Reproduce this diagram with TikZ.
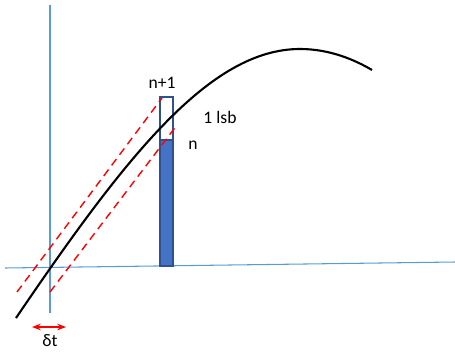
\documentclass[tikz,border=0pt]{standalone}
\usepackage{fontspec}
\setmainfont{Carlito}
\usepackage{tikz}
\usetikzlibrary{arrows.meta,positioning,calc}
\definecolor{axisblue}{RGB}{91,155,213}
\definecolor{barfill}{RGB}{68,114,196}
\definecolor{bardraw}{RGB}{47,82,143}
\definecolor{dashred}{RGB}{255,0,0}

\begin{document}
\begin{tikzpicture}[x=0.02cm, y=-0.02cm,
    axis/.style={axisblue, line width=0.6pt},
    sig/.style={black, line width=1.2pt},
    bound/.style={dashred, line width=0.8pt, dash pattern=on 4.5pt off 3pt},
    lbl/.style={font=\fontsize{10}{12}\selectfont, inner sep=0pt}
]
    \useasboundingbox (0,0) rectangle (455,351);
    % axes
    \draw[axis] (50,5) -- (50,313);
    \draw[axis] (5,268) -- (455,262);
    % bar for code n and n+1
    \draw[bardraw, line width=0.8pt, fill=white] (160,97) rectangle (173,140);
    \draw[bardraw, line width=0.8pt, fill=barfill] (160,140) rectangle (173,266);
    % signal
    \coordinate (s0) at (16,318);
    \coordinate (peak) at (300,49);
    \coordinate (s1) at (372,70);
    \draw[sig] (s0) .. controls (126,156) and (210,49) .. (peak)
                    .. controls (330,49) and (355,60) .. (s1);
    % timing bounds
    \draw[bound] (17,292) -- (162,98);
    \draw[bound] (50,292) -- (177,125);
    % delta t
    \coordinate (dl) at (32,327);
    \coordinate (dr) at (66,327);
    \draw[dashred, line width=0.8pt, {Stealth[length=5pt]}-{Stealth[length=5pt]}] (dl) -- (dr);
    \node[lbl] (dt) at (50,341) {δt};
    % labels
    \node[lbl] (nplus) at (162,83) {n+1};
    \node[lbl] (lsb) at (220,117) {1 lsb};
    \node[lbl] (ncode) at (193,145) {n};
\end{tikzpicture}
\end{document}
